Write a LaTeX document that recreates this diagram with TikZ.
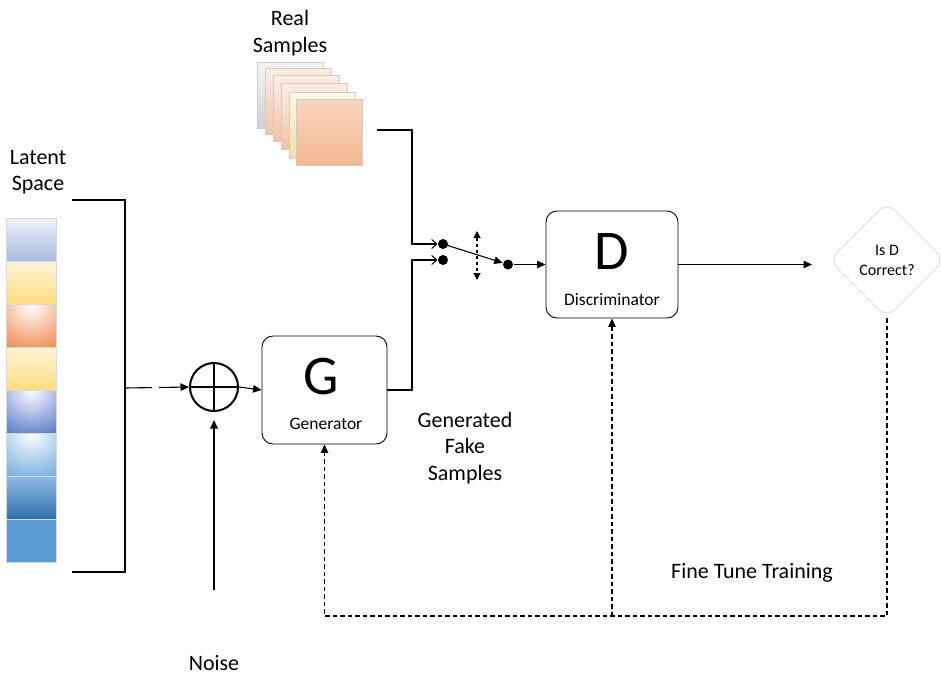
\documentclass[tikz,border=0pt]{standalone}
\usepackage{fontspec}
\setmainfont{Carlito}
\usetikzlibrary{arrows.meta,shapes.geometric}
\tikzset{
  arr/.style={-{Triangle[length=8.5pt,width=7.5pt]}},
  oarr/.style={-{Straight Barb[length=5pt,width=9pt,line width=1pt]}},
  box/.style={draw,rounded corners=11pt,line width=0.9pt,inner sep=0pt},
  dotn/.style={circle,fill,inner sep=0pt,minimum size=10pt},
  fb/.style={dash pattern=on 4.5pt off 3pt,line width=1.1pt},
  txt/.style={font=\fontsize{22}{26.5}\selectfont,align=center,inner sep=0pt},
  sq/.style={draw=black!15,line width=0.5pt},
  rs/.style={draw=black!20,line width=0.8pt},
}
\begin{document}
\begin{tikzpicture}[x=1pt,y=-1pt,line width=1.1pt]
\useasboundingbox (0,0) rectangle (941,675);
% Latent space squares
\foreach \i/\t/\b in {0/F0F3FA/A8BAE0,1/FFF4D6/FFDC80,3/FFF4D6/FFDC80,6/8DBBE3/2E6FAE,7/5B9BD5/5B9BD5}{
  \definecolor{ct}{HTML}{\t}\definecolor{cb}{HTML}{\b}
  \shade[sq,top color=ct,bottom color=cb] (6,218+43*\i) rectangle (56,261+43*\i);
}
\foreach \i/\c in {2/EE7A38,4/4466C0,5/64A0DA}{
  \definecolor{cc}{HTML}{\c}
  \begin{scope}
    \clip (6,218+43*\i) rectangle (56,261+43*\i);
    \fill[cc] (6,218+43*\i) rectangle (56,261+43*\i);
    \shade[inner color=white,outer color=cc] (31,218+43*\i) circle (56pt);
  \end{scope}
  \draw[sq] (6,218+43*\i) rectangle (56,261+43*\i);
}
\node[txt] (latent) at (38,172) {Latent\\Space};
% bracket
\coordinate (bm) at (125,388);
\draw[line width=2pt] (72,200) -- (125,200) -- (125,572) -- (72,572);
% plus
\node[circle,draw,line width=2pt,minimum size=48pt,inner sep=0pt] (plus) at (214,387) {};
\draw[line width=2pt] (plus.north) -- (plus.south) (plus.west) -- (plus.east);
\draw[arr,dash pattern=on 27pt off 7pt] (bm) -- (plus.west);
% noise
\node[txt] (noise) at (214,663) {Noise};
\coordinate (nt) at (214,590);
\draw[arr,shorten >=8pt] (nt) -- (plus.south);
% Generator
\node[box,minimum width=125pt,minimum height=108pt] (G) at (324.5,390) {};
\node[font=\fontsize{56}{56}\selectfont,inner sep=0pt] (Gl) at (321,377) {G};
\node[font=\fontsize{17.5}{20}\selectfont,inner sep=0pt] (Gt) at (326,424) {Generator};
\draw[arr] (plus.east) -- (G.west);
% Real samples stack
\foreach \x/\y/\t/\b in {257/62/F4F4F4/D2D2D2,265/68/FDEDE3/F2C4A6,273/75/FDEDE3/F2C4A6,281/83/FDEDE3/F2C4A6,289/92/FFF9E6/FCDC9C}{
  \definecolor{ct}{HTML}{\t}\definecolor{cb}{HTML}{\b}
  \shade[rs,top color=ct,bottom color=cb] (\x,\y) rectangle ++(66,66);
}
\definecolor{ct}{HTML}{F9D5C0}\definecolor{cb}{HTML}{F4B890}
\node[rs,top color=ct,bottom color=cb,minimum size=66pt,inner sep=0pt] (rsq) at (329,132) {};
\node[txt] (real) at (290,33) {Real\\Samples};
% switch
\node[dotn] (s1) at (443,244) {};
\node[dotn] (s2) at (443,260) {};
\node[dotn] (s3) at (508,264.5) {};
\coordinate (ro) at (377,130);
\coordinate (j1) at (412,130);
\coordinate (j2) at (412,244);
\draw[oarr] (ro) -- (j1) -- (j2) -- (s1.west);
\coordinate (g1) at (412,390);
\coordinate (g2) at (412,260);
\draw[oarr] (G.east) -- (g1) -- (g2) -- (s2.west);
\draw[arr] (s1.center) -- (s3);
\coordinate (va) at (477,231);
\coordinate (vb) at (477,280);
\draw[dashed,{Triangle[length=7pt,width=7pt]}-{Triangle[length=7pt,width=7pt]}] (va) -- (vb);
% Discriminator
\node[box,minimum width=132pt,minimum height=107pt] (D) at (612,264.5) {};
\node[font=\fontsize{56}{56}\selectfont,inner sep=0pt] (Dl) at (612,252) {D};
\node[font=\fontsize{17.5}{20}\selectfont,inner sep=0pt] (Dt) at (612,300) {Discriminator};
\draw[arr] (s3) -- (D.west);
% diamond
\node[diamond,draw=black!15,line width=0.8pt,rounded corners=12pt,minimum width=116pt,minimum height=116pt,inner sep=0pt,align=center,font=\fontsize{16}{20}\selectfont] (Q) at (887,260) {Is D\\Correct?};
\coordinate (qi) at (812,264.5);
\draw[arr] (D.east) -- (qi);
% feedback
\coordinate (fbl) at (324.5,616);
\draw[fb,arr] (Q.south) |- (fbl) -- (G.south);
\draw[fb,arr] (D.south |- fbl) -- (D.south);
% labels
\node[txt] (gen) at (465,448) {Generated\\Fake\\Samples};
\node[txt] (ftt) at (752,573) {Fine Tune Training};
\end{tikzpicture}
\end{document}
